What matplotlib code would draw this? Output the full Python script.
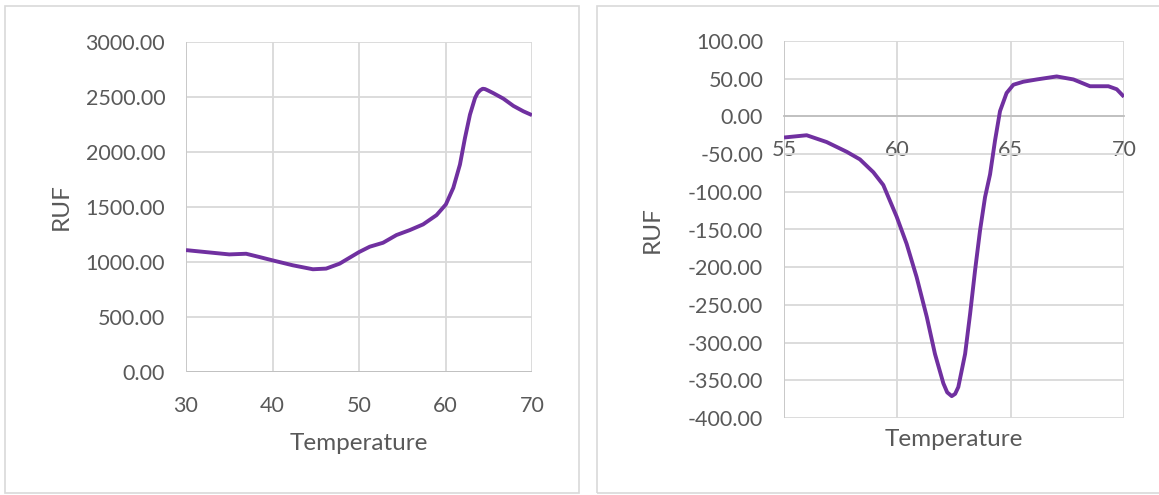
import matplotlib.pyplot as plt
from matplotlib.patches import Rectangle
from matplotlib.ticker import MultipleLocator, FormatStrFormatter

# left chart: raw melt curve
temp_raw = [30.0, 32.3, 35.0, 36.95, 38.5, 40.0, 42.35, 44.67, 46.2, 47.76, 50.0,
            51.24, 52.78, 54.33, 55.87, 57.41, 58.96, 60.04, 60.9, 61.67, 62.25,
            62.83, 63.41, 63.7, 63.99, 64.3, 64.57, 64.9, 65.53, 66.69, 67.85, 69.0, 70.0]
ruf_raw = [1108, 1090, 1069, 1075, 1045, 1015, 970, 934, 940, 985, 1090,
           1139, 1175, 1245, 1290, 1342, 1426, 1523, 1674, 1886, 2127,
           2340, 2490, 2535, 2560, 2575, 2572, 2560, 2535, 2485, 2419, 2370, 2335]

# right chart: derivative
temp_deriv = [55.0, 56.0, 56.88, 57.77, 58.35, 58.94, 59.38, 59.97, 60.41, 60.85,
              61.3, 61.66, 62.03, 62.2, 62.4, 62.55, 62.69, 62.99, 63.21, 63.43, 63.65, 63.87,
              64.09, 64.31, 64.53, 64.82, 65.12, 65.56, 66.15, 67.03, 67.77, 68.5,
              69.31, 69.68, 70.0]
ruf_deriv = [-28, -25, -34, -47, -57, -74, -91, -133, -169, -213,
             -266, -315, -354, -366, -371, -368, -359, -315, -262, -204, -151, -107,
             -77, -32, 7, 31, 42, 46, 49, 53, 49, 40,
             40, 36, 26]

line_color = "#7030A0"
text_color = "#595959"
grid_color = "#d9d9d9"
font = "Lato"

plt.rcParams['font.family'] = [font, 'DejaVu Sans']

fig = plt.figure(figsize=(11.59, 4.95), dpi=100)
W, H = 1159, 495

# panel frames
fig.patches.append(Rectangle((5 / W, 1 - 493 / H), 574 / W, 487 / H, transform=fig.transFigure,
                             fill=False, edgecolor=grid_color, linewidth=1.2))
fig.patches.append(Rectangle((597 / W, 1 - 493 / H), 580 / W, 487 / H, transform=fig.transFigure,
                             fill=False, edgecolor=grid_color, linewidth=1.2))


def style_axes(ax):
    for s in ax.spines.values():
        s.set_visible(False)
    ax.grid(True, color=grid_color, linewidth=1.3)
    ax.set_axisbelow(True)
    ax.tick_params(length=0, labelsize=15.5, labelcolor=text_color)
    ax.yaxis.set_major_formatter(FormatStrFormatter('%.2f'))
    ax.tick_params(axis='y', pad=15)
    ax.tick_params(axis='x', pad=17)


# left
ax1 = fig.add_axes([186 / W, 1 - 372 / H, 346 / W, 330 / H])
style_axes(ax1)
ax1.plot(temp_raw, ruf_raw, color=line_color, linewidth=2.8,
         solid_joinstyle='round', solid_capstyle='butt')
ax1.set_xlim(30, 70)
ax1.set_ylim(0, 3000)
ax1.xaxis.set_major_locator(MultipleLocator(10))
ax1.yaxis.set_major_locator(MultipleLocator(500))
ax1.axhline(0, color="#bfbfbf", linewidth=1.3, zorder=1.5)
ax1.axvline(30, color="#c8c8c8", linewidth=1.3, zorder=1.5)
fig.text(359 / W, 1 - 443 / H, "Temperature", ha='center', va='center', fontsize=17.5, color=text_color)
fig.text(61 / W, 1 - 207 / H, "RUF", ha='center', va='center', rotation=90, fontsize=17.5, color=text_color)

# right
ax2 = fig.add_axes([784 / W, 1 - 418 / H, 340 / W, 377 / H])
style_axes(ax2)
ax2.plot(temp_deriv, ruf_deriv, color=line_color, linewidth=2.8,
         solid_joinstyle='round', solid_capstyle='butt')
ax2.set_xlim(55, 70)
ax2.set_ylim(-400, 100)
ax2.xaxis.set_major_locator(MultipleLocator(5))
ax2.yaxis.set_major_locator(MultipleLocator(50))
ax2.spines['bottom'].set_visible(True)
ax2.spines['bottom'].set_position(('data', 0))
ax2.spines['bottom'].set_color("#bfbfbf")
ax2.spines['bottom'].set_linewidth(1.3)
ax2.spines['bottom'].set_zorder(1.5)
ax2.axvline(55, color="#c8c8c8", linewidth=1.3, zorder=1.5)
fig.text(954 / W, 1 - 440 / H, "Temperature", ha='center', va='center', fontsize=17.5, color=text_color)
fig.text(652 / W, 1 - 230 / H, "RUF", ha='center', va='center', rotation=90, fontsize=17.5, color=text_color)

plt.savefig("out.png", dpi=100)
plt.close()
